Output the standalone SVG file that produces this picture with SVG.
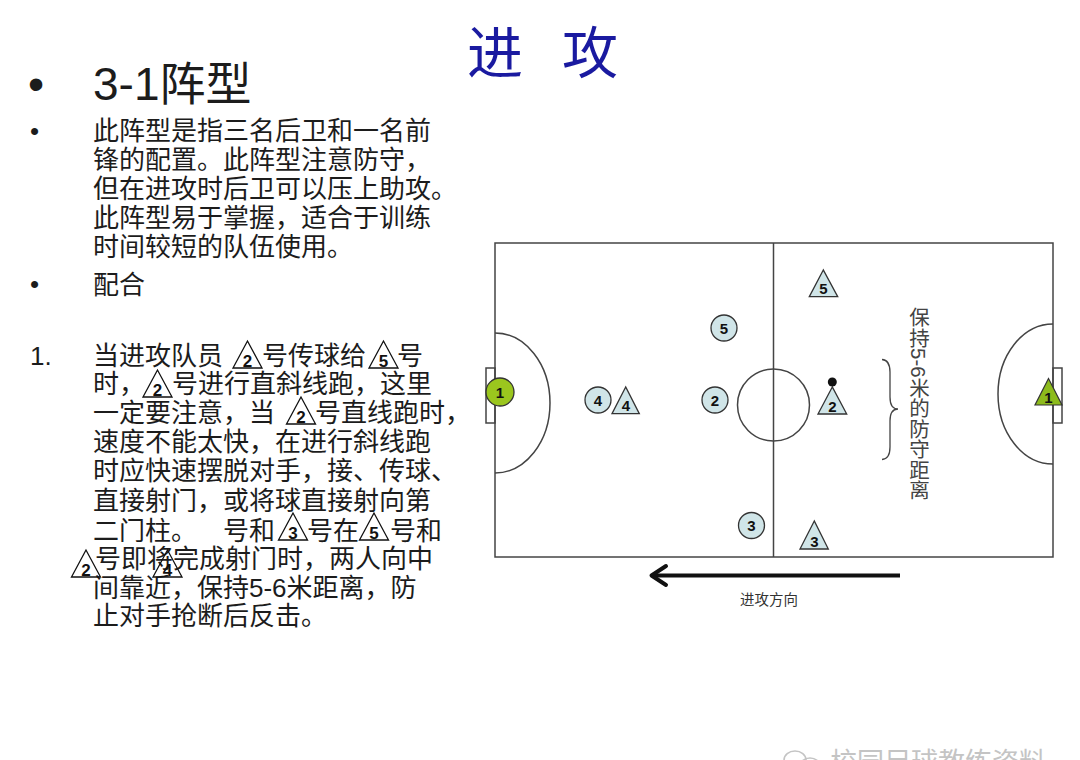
<svg xmlns="http://www.w3.org/2000/svg" width="1080" height="760" viewBox="0 0 1080 760">
<style>
.t{font-family:"Liberation Sans","Noto Sans CJK SC",sans-serif;fill:#1c1c1c}
.b{font-size:26px}
.n{font-family:"Liberation Sans",Arial,sans-serif;font-weight:bold;font-size:15px;fill:#111;text-anchor:middle}
.ni{font-family:"Liberation Sans",Arial,sans-serif;font-weight:bold;font-size:17px;fill:#111;text-anchor:middle}
.line{fill:none;stroke:#444;stroke-width:1.5}
.pc{fill:#d0e5e8;stroke:#333;stroke-width:1.3}
.itri{fill:none;stroke:#111;stroke-width:1.3}
</style>
<defs>
<polygon id="tri" points="0,-27 -14.5,0 14.5,0"/>
</defs>
<rect width="1080" height="760" fill="#ffffff"/>

<!-- Title -->
<g id="title">
<text x="467" y="73" font-family="'Noto Sans CJK SC',sans-serif" font-size="56" fill="#1a1aa0">进</text>
<text x="562" y="73" font-family="'Noto Sans CJK SC',sans-serif" font-size="56" fill="#1a1aa0">攻</text>
</g>

<!-- Left text -->
<g id="heading">
<text class="t" x="28" y="100" font-size="46">•</text>
<text class="t" x="93" y="100" font-size="46">3-1阵型</text>
</g>
<g id="desc" class="t b">
<text x="30" y="140">•</text>
<text x="93" y="140">此阵型是指三名后卫和一名前</text>
<text x="93" y="169">锋的配置。此阵型注意防守，</text>
<text x="93" y="198">但在进攻时后卫可以压上助攻。</text>
<text x="93" y="227">此阵型易于掌握，适合于训练</text>
<text x="93" y="256">时间较短的队伍使用。</text>
<text x="30" y="293">•</text>
<text x="93" y="294">配合</text>
</g>
<g id="item1" class="t b">
<text x="30" y="365">1.</text>
<text x="93" y="365">当进攻队员</text>
<text x="262" y="365">号传球给</text>
<text x="397" y="365">号</text>
<text x="93" y="393">时，</text>
<text x="172" y="393">号进行直斜线跑，这里</text>
<text x="93" y="422">一定要注意，当</text>
<text x="315" y="422">号直线跑时，</text>
<text x="93" y="451">速度不能太快，在进行斜线跑</text>
<text x="93" y="480">时应快速摆脱对手，接、传球、</text>
<text x="93" y="510">直接射门，或将球直接射向第</text>
<text x="93" y="540">二门柱。</text>
<text x="223" y="540">号和</text>
<text x="307" y="540">号在</text>
<text x="390" y="540">号和</text>
<text x="95" y="568">号即将完成射门时，两人向中</text>
<text x="93" y="597">间靠近，保持5-6米距离，防</text>
<text x="93" y="625">止对手抢断后反击。</text>
</g>
<g id="inline-icons">
<g transform="translate(247.5,368)"><use href="#tri" class="itri"/><text class="ni" y="-1">2</text></g>
<g transform="translate(383.5,368)"><use href="#tri" class="itri"/><text class="ni" y="-1">5</text></g>
<g transform="translate(157.5,397)"><use href="#tri" class="itri"/><text class="ni" y="-1">2</text></g>
<g transform="translate(301,424)"><use href="#tri" class="itri"/><text class="ni" y="-1">2</text></g>
<g transform="translate(293,540)"><use href="#tri" class="itri"/><text class="ni" y="-1">3</text></g>
<g transform="translate(374,540)"><use href="#tri" class="itri"/><text class="ni" y="-1">5</text></g>
<g transform="translate(86,577)"><use href="#tri" class="itri"/><text class="ni" y="-1">2</text></g>
<g transform="translate(167.5,577)"><use href="#tri" class="itri"/><text class="ni" y="-1">4</text></g>
</g>

<!-- Field -->
<g id="field">
<rect class="line" x="495" y="243" width="558" height="314"/>
<line class="line" x1="773.5" y1="243" x2="773.5" y2="557"/>
<circle class="line" cx="773.5" cy="405" r="36"/>
<path class="line" d="M495,333 A55,70 0 0 1 495,473"/>
<rect class="line" x="486" y="368" width="9" height="55"/>
<path class="line" d="M1053,324 A55,70 0 0 0 1053,464"/>
<rect class="line" x="1053" y="368" width="9" height="55"/>
</g>

<g id="defender-5"><circle class="pc" cx="724" cy="328" r="13"/><text class="n" x="724" y="333.5">5</text></g>
<g id="defender-4"><circle class="pc" cx="598" cy="400" r="13"/><text class="n" x="598" y="405.5">4</text></g>
<g id="defender-2"><circle class="pc" cx="715" cy="400" r="13"/><text class="n" x="715" y="405.5">2</text></g>
<g id="defender-3"><circle class="pc" cx="751.5" cy="525.5" r="13"/><text class="n" x="751.5" y="531">3</text></g>
<g id="keeper-1"><circle cx="500" cy="392" r="14" fill="#9bc61e" stroke="#333" stroke-width="1.3"/><text class="n" x="500" y="397.5">1</text></g>

<g id="attacker-4"><polygon class="pc" points="625.7,387 612,413.7 639.3,413.7"/><text class="n" x="626" y="411">4</text></g>
<g id="attacker-5"><polygon class="pc" points="823.3,270 809.3,296.7 837.7,296.7"/><text class="n" x="823.5" y="294">5</text></g>
<g id="attacker-2"><polygon class="pc" points="832.3,387 818,414 846.7,414"/><text class="n" x="832.5" y="411.5">2</text><circle cx="832.3" cy="382" r="4.5" fill="#111"/></g>
<g id="attacker-3"><polygon class="pc" points="814.3,521 800,549 828.3,549"/><text class="n" x="814.3" y="546.5">3</text></g>
<g id="attacker-keeper-1"><polygon points="1048.5,378.5 1035,405 1062,405" fill="#8dbb1c" stroke="#333" stroke-width="1.2"/><text class="n" x="1048.5" y="403">1</text></g>

<g id="distance-note">
<path d="M882,359.5 Q890,360 890,372 L890,397 Q890,409 898,409 Q890,409 890,421 L890,447 Q890,459 882,459.5" fill="none" stroke="#444" stroke-width="1.3"/>
<text x="918" y="307" font-family="'Liberation Sans','Noto Sans CJK SC',sans-serif" font-size="20.5" fill="#444" style="writing-mode:vertical-rl">保持5-6米的防守距离</text>
</g>

<g id="connectors">
<line x1="654" y1="575.5" x2="900" y2="575.5" stroke="#111" stroke-width="4"/>
<polyline points="666,566 651.5,575.5 666,585" fill="none" stroke="#111" stroke-width="4" stroke-linecap="round" stroke-linejoin="round"/>
</g>
<g id="direction-label">
<text x="740" y="604.5" font-family="'Noto Sans CJK SC',sans-serif" font-size="14.5" fill="#333">进攻方向</text>
</g>

<g id="watermark">
<ellipse cx="795" cy="760" rx="11" ry="9" fill="none" stroke="#c4c4c4" stroke-width="1.6"/>
<ellipse cx="810" cy="766" rx="10" ry="8" fill="none" stroke="#c4c4c4" stroke-width="1.6"/>
<text x="830" y="772" font-family="'Noto Sans CJK SC',sans-serif" font-size="27" fill="#c4c4c4">校园足球教练资料</text>
</g>
</svg>
